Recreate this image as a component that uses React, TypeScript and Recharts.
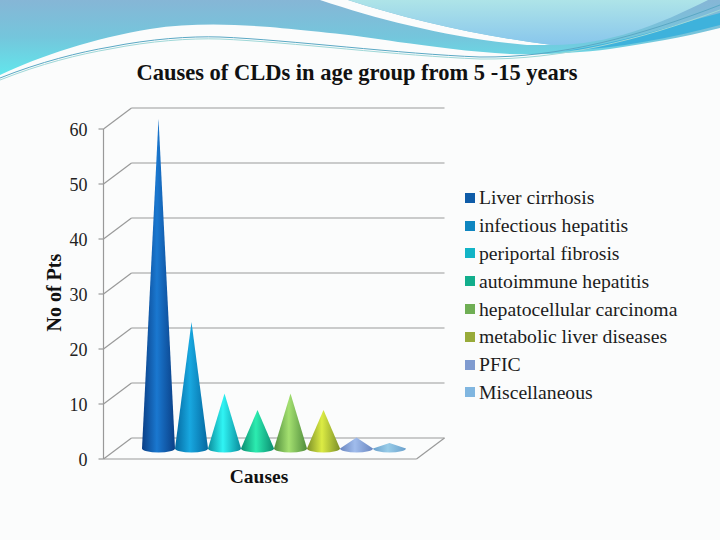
import React from 'react';
import { BarChart, Bar, XAxis, YAxis, CartesianGrid, Legend } from 'recharts';

const causes = [
  'Liver cirrhosis',
  'infectious hepatitis',
  'periportal fibrosis',
  'autoimmune hepatitis',
  'hepatocellular carcinoma',
  'metabolic liver diseases',
  'PFIC',
  'Miscellaneous',
];
const patients = [60, 23, 10, 7, 10, 7, 2, 1];
const yTicks = [0, 10, 20, 30, 40, 50, 60];

const legendColors = ['#0f5ca8', '#0f86c0', '#12b4c6', '#12ae8c', '#6fae54', '#98ab3a', '#7f9bd0', '#80b6e0'];
const coneDark = ['#0a3f86', '#0468a0', '#0a8c9c', '#0a8c70', '#4f8c3c', '#7c9028', '#6a86c0', '#6aa0cc'];
const coneLight = ['#1a78d0', '#18a8e0', '#30f4f4', '#2cecb0', '#a4e070', '#dcec44', '#a0bcec', '#98cce8'];

const row: Record<string, string | number> = { category: 'Causes' };
causes.forEach((c, i) => {
  row[c] = patients[i];
});
const data = [row];

// depth of the fake 3D box, in px, from the plane the cones stand on
const DX = 14;
const DY = 10.5;
const GRID = '#999999';
const FONT = '"Liberation Serif", serif';

const Cone = (props: any) => {
  const { x, y, width, height, index } = props;
  const cx = x + width / 2;
  const by = y + height;
  const i = props.coneIndex ?? index;
  return (
    <path
      d={`M${cx},${y} L${x + width},${by} A${width / 2},4 0 0 1 ${x},${by} Z`}
      fill={`url(#cone${i})`}
    />
  );
};

const WallLine = (props: any) => {
  const { x1, x2, y1, index } = props;
  const isFloor = y1 > 440;
  return (
    <g key={index} stroke={GRID} strokeWidth={1.2} fill="none">
      <line x1={x1 - DX} y1={y1 + DY} x2={x1 + DX} y2={y1 - DY} />
      <line x1={x1 + DX} y1={y1 - DY} x2={x2 + DX} y2={y1 - DY} />
      {isFloor && <line x1={x1 - DX} y1={y1 + DY} x2={x2 - DX} y2={y1 + DY} />}
      {isFloor && <line x1={x2 - DX} y1={y1 + DY} x2={x2 + DX} y2={y1 - DY} />}
    </g>
  );
};

const FrontTick = (props: any) => {
  const { y, payload, index } = props;
  const fx = 117.5 - DX;
  const fy = y + DY;
  return (
    <g>
      <line x1={fx - 5} y1={fy} x2={fx} y2={fy} stroke={GRID} strokeWidth={1.2} />
      {index < yTicks.length - 1 && (
        <line x1={fx} y1={fy} x2={fx} y2={fy - 55} stroke={GRID} strokeWidth={1.2} />
      )}
      <text x={fx - 16} y={fy + 7} textAnchor="end" fontFamily={FONT} fontSize={18} fill="#222">
        {payload.value}
      </text>
    </g>
  );
};

const LegendList = ({ payload }: any) => (
  <div style={{ fontFamily: FONT, fontSize: 19.7, color: '#1c1c1c' }}>
    {(payload || []).map((p: any) => (
      <div key={p.value} style={{ display: 'flex', alignItems: 'center', height: 27.8, whiteSpace: 'nowrap' }}>
        <span style={{ width: 10, height: 10, background: p.color, marginRight: 4, flex: 'none' }} />
        {p.value}
      </div>
    ))}
  </div>
);

const Backdrop = () => (
  <svg width={720} height={540} style={{ position: 'absolute', left: 0, top: 0 }}>
    <defs>
      <linearGradient id="bandMain" x1="0" y1="0" x2="0" y2="1">
        <stop offset="0%" stopColor="#86b6d6" />
        <stop offset="50%" stopColor="#74c6dc" />
        <stop offset="100%" stopColor="#62e6ec" />
      </linearGradient>
      <linearGradient id="bandLight" x1="0" y1="0" x2="0" y2="1">
        <stop offset="0%" stopColor="#aee4e8" />
        <stop offset="100%" stopColor="#88c6ec" />
      </linearGradient>
    </defs>
    <rect width={720} height={540} fill="#fbfcfc" />
    <path
      d="M0,75 L0,0 L720,0 L720,28 C680,38 650,43 610,49 C580,53 540,55 510,54 C470,52 430,46 398,42 C350,34 300,30 270,27 C230,24 190,23 150,29 C95,38 40,56 0,75 Z"
      fill="url(#bandMain)"
    />
    <path d="M320,0 C380,20 450,38 527,45 L552,45 C480,36 410,20 348,0 Z" fill="#fbfcfc" />
    <path d="M348,0 L708,0 C660,24 610,45 552,45 C480,36 410,20 348,0 Z" fill="url(#bandLight)" />
    <path d="M565,51 C620,43 670,26 720,13 L720,25 C670,38 620,48 565,51 Z" fill="#3eb2dc" />
    <path
      d="M0,78 C40,62 80,52 110,47 C150,39 190,36 220,37 C290,40 400,54 480,57 C560,58 640,36 720,5"
      stroke="#5aa8c4"
      strokeWidth={1}
      fill="none"
    />
    <path
      d="M0,80 C40,64 80,54 110,49 C150,41 190,38 220,39 C290,42 400,56 480,59 C560,60 640,40 720,10"
      stroke="#9fd8d8"
      strokeWidth={1}
      fill="none"
    />
  </svg>
);

export default function App() {
  return (
    <div style={{ position: 'absolute', left: 0, top: 0, width: 720, height: 540, overflow: 'hidden' }}>
      <Backdrop />
      <div style={{ position: 'absolute', left: 0, top: 0 }}>
        <BarChart
          width={720}
          height={540}
          data={data}
          margin={{ top: 118.5, right: 19.5, bottom: 51.5, left: 17.5 }}
          barCategoryGap={24.5}
          barGap={0}
        >
          <defs>
            {causes.map((c, i) => (
              <linearGradient id={`cone${i}`} key={c} x1="0" y1="0" x2="1" y2="0">
                <stop offset="0%" stopColor={coneDark[i]} />
                <stop offset="45%" stopColor={coneLight[i]} />
                <stop offset="100%" stopColor={coneDark[i]} />
              </linearGradient>
            ))}
          </defs>
          <text x={357} y={80} textAnchor="middle" fontFamily={FONT} fontWeight="bold" fontSize={22.5} fill="#111">
            Causes of CLDs in age group from 5 -15 years
          </text>
          <CartesianGrid horizontal={(p: any) => <WallLine {...p} />} vertical={false} />
          <XAxis
            dataKey="category"
            tick={false}
            axisLine={false}
            tickLine={false}
            height={40}
            label={{
              value: 'Causes',
              position: 'insideTop',
              offset: 21,
              dx: -15,
              fontFamily: FONT,
              fontWeight: 'bold',
              fontSize: 19.5,
              fill: '#111',
            }}
          />
          <YAxis
            domain={[0, 60]}
            ticks={yTicks}
            width={100}
            axisLine={false}
            tickLine={false}
            tick={(p: any) => <FrontTick {...p} />}
            label={{
              value: 'No of Pts',
              angle: -90,
              position: 'insideLeft',
              offset: 36,
              dy: 48,
              fontFamily: FONT,
              fontWeight: 'bold',
              fontSize: 20,
              fill: '#111',
            }}
          />
          <Legend
            layout="vertical"
            align="right"
            verticalAlign="top"
            width={270}
            itemSorter={null}
            wrapperStyle={{ left: 465, top: 184 }}
            content={<LegendList />}
          />
          {causes.map((c, i) => (
            <Bar
              key={c}
              dataKey={c}
              name={c}
              fill={legendColors[i]}
              isAnimationActive={false}
              shape={(p: any) => <Cone {...p} coneIndex={i} />}
            />
          ))}
        </BarChart>
      </div>
    </div>
  );
}
